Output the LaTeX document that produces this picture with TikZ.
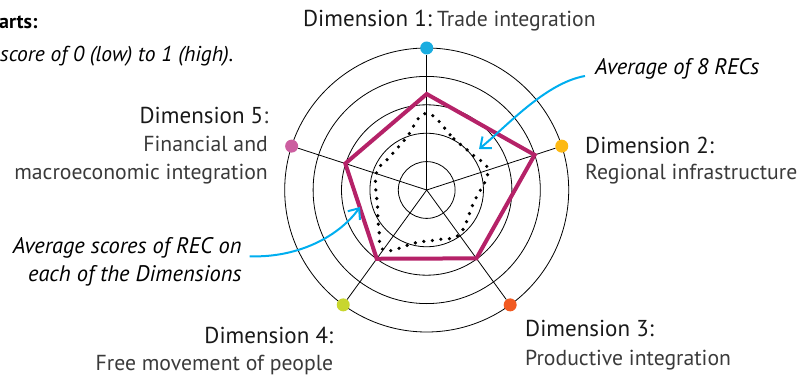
\documentclass[tikz,border=0pt]{standalone}
\usepackage{fontspec}
\setmainfont{PT Sans}
\usetikzlibrary{positioning}
\usetikzlibrary{calc}
\usetikzlibrary{arrows.meta}

\definecolor{dimA}{HTML}{1AADE0}
\definecolor{dimB}{HTML}{FDB913}
\definecolor{dimC}{HTML}{F15A22}
\definecolor{dimD}{HTML}{C8D62E}
\definecolor{dimE}{HTML}{CC5EA0}
\definecolor{recpink}{HTML}{B52268}
\definecolor{pointblue}{HTML}{00AEEF}
\definecolor{lighttext}{HTML}{3A3A3A}

\tikzset{
lbl/.style={inner sep=0pt},
headlbl/.style={lbl,font=\fontsize{23}{27}\selectfont,text=black!90},
desclbl/.style={lbl,font=\fontsize{21.7}{26}\selectfont,text=lighttext},
note/.style={lbl,font=\fontsize{22.5}{27}\selectfont\itshape},
dimdot/.style={circle,inner sep=0pt,minimum size=13pt},
ring/.style={line width=0.8pt},
recline/.style={recpink,line width=4pt},
avgline/.style={line width=3.6pt,dash pattern=on 0pt off 8.6pt,line cap=round},
pointer/.style={pointblue,line width=2pt,-{Straight Barb[length=9pt,width=15pt]}}
}

\begin{document}
\begin{tikzpicture}[x=1pt,y=1pt]
\useasboundingbox (0,0) rectangle (799,383);

\coordinate (O) at (426.7,193);

\draw[ring] (O) circle[radius=28.4];
\draw[ring] (O) circle[radius=56.8];
\draw[ring] (O) circle[radius=85.2];
\draw[ring] (O) circle[radius=113.6];
\draw[ring] (O) circle[radius=142];

\node[dimdot,fill=dimA](d1) at ($(O)+(90:142)$){};
\node[dimdot,fill=dimB](d2) at ($(O)+(18:142)$){};
\node[dimdot,fill=dimC](d3) at ($(O)+(-54:142)$){};
\node[dimdot,fill=dimD](d4) at ($(O)+(-126:142)$){};
\node[dimdot,fill=dimE](d5) at ($(O)+(162:142)$){};

\path
(O) edge[ring] (d1)
(O) edge[ring] (d2)
(O) edge[ring] (d3)
(O) edge[ring] (d4)
(O) edge[ring] (d5);

\begin{scope}[shift={(O)}]
\draw[avgline] plot[smooth cycle,tension=0.7] coordinates {(90:76.7) (62:58) (37:58) (17:64) (-16:48.5) (-53:55) (-76:51) (-101:53.6) (-125:73.6) (-141:61.5) (-161:52) (162:53) (138:49.6) (112:55.6)};
\end{scope}

\coordinate (p1) at ($(O)+(90:96)$);
\coordinate (p2) at ($(O)+(18:113.5)$);
\coordinate (p3) at ($(O)+(-54:84.5)$);
\coordinate (p4) at ($(O)+(-126:85)$);
\coordinate (p5) at ($(O)+(162:85.6)$);
\draw[recline] (p1) -- (p2) -- (p3) -- (p4) -- (p5) -- cycle;

\node[lbl,anchor=base west,font=\fontsize{20}{24}\selectfont\bfseries](head) at (-1,354.7){arts:};
\node[note,anchor=base west,font=\fontsize{21.5}{26}\selectfont\itshape](scale) at (0,321.3){score of 0 (low) to 1 (high).};

\node[headlbl,anchor=base west](dimAhead) at (303,356.5){Dimension 1:};
\node[desclbl,anchor=base west](dimAtext) at (437,356.5){Trade integration};
\node[headlbl,anchor=base west](dimBhead) at (585,229.7){Dimension 2:};
\node[desclbl,anchor=base west](dimBtext) at (585,203){Regional infrastructure};
\node[headlbl,anchor=base west](dimChead) at (525,46.3){Dimension 3:};
\node[desclbl,anchor=base west](dimCtext) at (525,18){Productive integration};
\node[headlbl,anchor=base east](dimDhead) at (333.3,39.7){Dimension 4:};
\node[desclbl,anchor=base east](dimDtext) at (333.3,13){Free movement of people};
\node[headlbl,anchor=base east](dimEhead) at (268.5,259.5){Dimension 5{\color{lighttext}:}};
\node[desclbl,anchor=base east](dimEtextA) at (268,231.3){Financial and};
\node[desclbl,anchor=base east](dimEtextB) at (268,203){macroeconomic integration};

\node[note,anchor=base west](avgAll) at (595,308){Average of 8 RECs};
\node[note,anchor=base east](recAvgA) at (241.7,129.7){Average scores of REC on};
\node[note,anchor=base east](recAvgB) at (241.7,101.3){each of the Dimensions};

\coordinate (tipA) at (479,234);
\coordinate (tipB) at (360,176);
\draw[pointer] ([xshift=-10pt,yshift=-1pt]avgAll.base west) .. controls (545,300) and (505,255) .. (tipA);
\draw[pointer] ([xshift=8pt,yshift=-3pt]recAvgA.base east) .. controls (300,125) and (340,148) .. (tipB);
\end{tikzpicture}
\end{document}
